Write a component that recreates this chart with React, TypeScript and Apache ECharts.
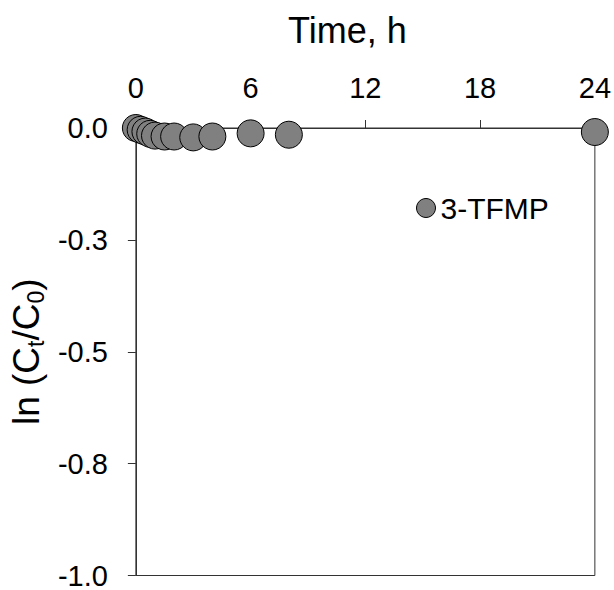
import React, { useEffect, useRef } from "react";
import * as echarts from "echarts";

const timeHours = [0, 0.25, 0.5, 0.75, 1, 1.5, 2, 3, 4, 6, 8, 24];
const lnRatio = [0, -0.004, -0.008, -0.013, -0.017, -0.019, -0.019, -0.021, -0.019, -0.012, -0.015, -0.009];
const seriesName = "3-TFMP";
const xTicks = [0, 6, 12, 18, 24];
const yTickLabels = ["-1.0", "-0.8", "-0.5", "-0.3", "0.0"];

export default function App() {
  const ref = useRef<HTMLDivElement>(null);
  useEffect(() => {
    if (!ref.current) return;
    const chart = echarts.init(ref.current, undefined, { renderer: "svg" });
    const font = "Liberation Sans, Arial, sans-serif";
    chart.setOption({
      animation: false,
      textStyle: { fontFamily: font },
      grid: {
        left: 132,
        right: 18,
        top: 128,
        bottom: 8,
        show: true,
        borderColor: "#333",
        borderWidth: 1,
        backgroundColor: "transparent",
      },
      legend: {
        data: [{ name: seriesName, icon: "circle" }],
        left: 411,
        top: 188,
        itemWidth: 19,
        itemHeight: 19,
        itemGap: 4,
        textStyle: { fontSize: 30, color: "#000", fontFamily: font },
        itemStyle: { borderColor: "#000", borderWidth: 1 },
      },
      xAxis: {
        type: "value",
        position: "top",
        min: xTicks[0],
        max: xTicks[xTicks.length - 1],
        interval: xTicks[1] - xTicks[0],
        name: "Time, h",
        nameLocation: "middle",
        nameGap: 80,
        nameTextStyle: { fontSize: 36, color: "#000", fontFamily: font, padding: [0, 36, 0, 0] },
        axisLine: { show: true, lineStyle: { color: "#333", width: 1 } },
        axisTick: { show: true, inside: false, length: 8, lineStyle: { color: "#333" } },
        axisLabel: { fontSize: 29, color: "#000", margin: 26, fontFamily: font },
        splitLine: { show: false },
      },
      yAxis: {
        type: "value",
        min: -1,
        max: 0,
        interval: 0.25,
        name: "{n|ln (C}{s|t}{n|/C}{s|0}{n|)}",
        nameLocation: "middle",
        nameGap: 78,
        nameRotate: 90,
        nameTextStyle: {
          rich: {
            n: { fontSize: 37, color: "#000", fontFamily: font },
            s: { fontSize: 23, color: "#000", fontFamily: font, padding: [18, 0, 0, 0] },
          },
        },
        axisLine: { show: true, lineStyle: { color: "#333", width: 1 } },
        axisTick: { show: true, inside: false, length: 8, lineStyle: { color: "#333" } },
        axisLabel: {
          fontSize: 29,
          color: "#000",
          margin: 28,
          fontFamily: font,
          formatter: (v: number) => yTickLabels[Math.round((v + 1) / 0.25)] ?? "",
        },
        splitLine: { show: false },
      },
      series: [
        {
          name: seriesName,
          type: "scatter",
          clip: false,
          symbol: "circle",
          symbolSize: 27,
          itemStyle: { color: "#808080", borderColor: "#000", borderWidth: 1, opacity: 1 },
          data: timeHours.map((t, i) => [t, lnRatio[i]]),
        },
      ],
    });
    return () => chart.dispose();
  }, []);
  return (
    <div
      ref={ref}
      style={{ position: "fixed", left: 0, top: 0, width: 614, height: 590, background: "#fff" }}
    />
  );
}
